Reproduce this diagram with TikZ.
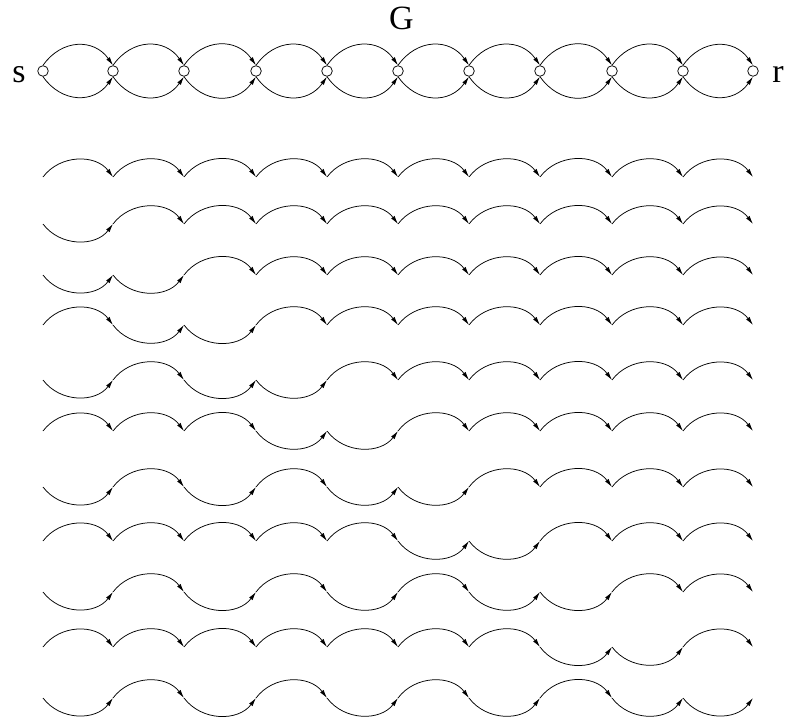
\documentclass[tikz,border=0pt]{standalone}
\usepackage{fontspec}
\setmainfont{Liberation Serif}
\usetikzlibrary{arrows.meta}
\tikzset{
  hop/.style={line width=0.75pt, -{Latex[length=8.5pt,width=4.3pt]}},
  vtx/.style={circle, draw, line width=0.75pt, minimum size=10.6pt, inner sep=0pt},
  lbl/.style={anchor=base, inner sep=0pt, font=\fontsize{34}{40}\selectfont},
}
\newcommand{\pathrow}[3]{%
  \foreach \xx [count=\k from 0] in {43,113,184,256,327,398,469,540,612,683,753}
    \coordinate (#1-\k) at (\xx,#2);
  \foreach \bb [count=\k from 0] in {#3}{%
    \pgfmathtruncatemacro\kn{\k+1}%
    \ifnum\bb=1
      \draw[hop] (#1-\k) to[bend left=53, looseness=1.05] (#1-\kn);
    \else
      \draw[hop] (#1-\k) to[bend right=53, looseness=1.05] (#1-\kn);
    \fi
  }%
}
\begin{document}
\begin{tikzpicture}[x=1pt,y=-1pt]
\useasboundingbox (0,0) rectangle (788,723);
% graph G
\node[lbl] (G) at (401.5,29) {G};
\foreach \xx [count=\k from 0] in {43,113,184,256,327,398,469,540,612,683,753}
  \node[vtx] (c\k) at (\xx,71) {};
\node[lbl] (s) at (19,82) {s};
\node[lbl] (r) at (778,82) {r};
\foreach \k in {0,...,9}{%
  \pgfmathtruncatemacro\kn{\k+1}%
  \draw[hop] (c\k.north) to[bend left=55, looseness=1.2] (c\kn.north);
  \draw[hop] (c\k.south) to[bend right=55, looseness=1.2] (c\kn.south);
}
% paths (1 = upper arc, 0 = lower arc)
\pathrow{pa}{177}{1,1,1,1,1,1,1,1,1,1}
\pathrow{pb}{224}{0,1,1,1,1,1,1,1,1,1}
\pathrow{pc}{275}{0,0,1,1,1,1,1,1,1,1}
\pathrow{pd}{325}{1,0,0,1,1,1,1,1,1,1}
\pathrow{pe}{380}{0,1,0,0,1,1,1,1,1,1}
\pathrow{pf}{431}{1,1,1,0,0,1,1,1,1,1}
\pathrow{pg}{487}{0,1,0,1,0,0,1,1,1,1}
\pathrow{ph}{541}{1,1,1,1,1,0,0,1,1,1}
\pathrow{pi}{592}{0,1,0,1,0,1,0,0,1,1}
\pathrow{pj}{647}{1,1,1,1,1,1,1,0,0,1}
\pathrow{pk}{698}{0,1,0,1,0,1,0,1,0,0}
\end{tikzpicture}
\end{document}
